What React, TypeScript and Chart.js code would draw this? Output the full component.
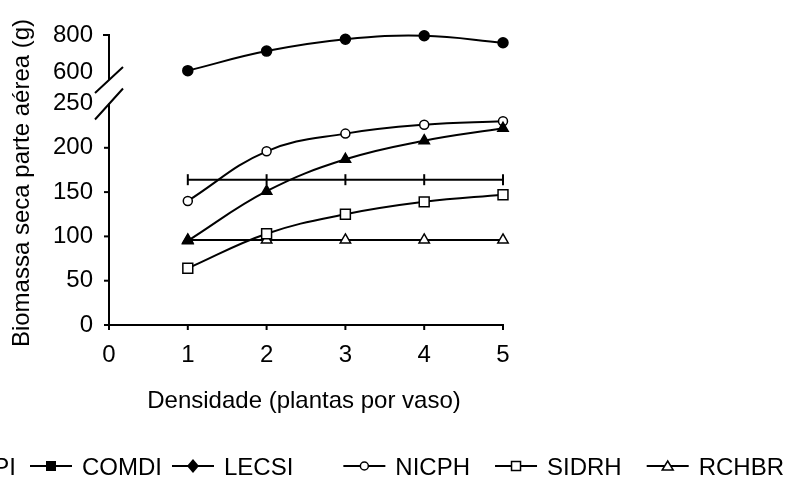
import React, { useEffect, useRef } from "react";
import { Chart, registerables } from "chart.js";

Chart.register(...registerables);

// ---- data ----
const densidade = [1, 2, 3, 4, 5];
const bidpi = [607, 713, 777, 796, 758]; // filled circles (upper segment of axis)
const comdi = [95, 151, 187, 208, 222]; // filled triangles
const lecsi = [164, 164, 164, 164, 164]; // bar markers
const nicph = [140, 196, 216, 226, 230]; // open circles
const sidrh = [64, 103, 125, 139, 147]; // open squares
const rchbr = [96, 96, 96, 96, 96]; // open triangles
const xTickValues = [0, 1, 2, 3, 4, 5];
const yTicksLower = [0, 50, 100, 150, 200, 250];
const yTicksUpper = [600, 800];
const legendNames = ["BIDPI", "COMDI", "LECSI", "NICPH", "SIDRH", "RCHBR"];
const xTitle = "Densidade (plantas por vaso)";
const yTitle = "Biomassa seca parte aérea (g)";

// ---- broken axis mapping ----
const BREAK_LOW = 250;
const UPPER_START = 600;
const AXIS_AT_600 = 285.6;
const UPPER_K = 0.2085;
const toAxis = (v: number) => (v <= BREAK_LOW ? v : AXIS_AT_600 + (v - UPPER_START) * UPPER_K);

const FONT = "'Liberation Sans', Arial, sans-serif";
const FS = 24;

const pts = (arr: number[]) => arr.map((v, i) => ({ x: densidade[i], y: toAxis(v) }));

const customDraw = {
  id: "customDraw",
  beforeDatasetsDraw(chart: any) {
    const ctx = chart.ctx;
    const xs = chart.scales.x;
    const ys = chart.scales.y;
    const x0 = xs.getPixelForValue(0);
    const y0 = ys.getPixelForValue(0);
    ctx.save();
    ctx.strokeStyle = "#000";
    ctx.lineWidth = 2;
    ctx.lineCap = "butt";
    // x axis
    ctx.beginPath();
    ctx.moveTo(x0 - 1, y0);
    ctx.lineTo(xs.getPixelForValue(5) + 1, y0);
    ctx.stroke();
    xTickValues.forEach((v) => {
      const px = xs.getPixelForValue(v);
      ctx.beginPath();
      ctx.moveTo(px, y0);
      ctx.lineTo(px, y0 + 5);
      ctx.stroke();
    });
    // y axis lower segment
    const yLowTop = ys.getPixelForValue(BREAK_LOW);
    const yTop = ys.getPixelForValue(toAxis(800));
    const y600 = ys.getPixelForValue(toAxis(600));
    ctx.beginPath();
    ctx.moveTo(x0, y0 + 1);
    ctx.lineTo(x0, yLowTop);
    ctx.stroke();
    // upper segment
    ctx.beginPath();
    ctx.moveTo(x0, yTop);
    ctx.lineTo(x0, y600 + 8);
    ctx.stroke();
    // ticks
    [0, 50, 100, 150, 200].forEach((v) => {
      const py = ys.getPixelForValue(v);
      ctx.beginPath();
      ctx.moveTo(x0 - 5, py);
      ctx.lineTo(x0, py);
      ctx.stroke();
    });
    ctx.beginPath();
    ctx.moveTo(x0 - 6, yTop);
    ctx.lineTo(x0 + 1, yTop);
    ctx.stroke();
    // break marks
    ctx.beginPath();
    ctx.moveTo(x0 - 14, y600 + 21);
    ctx.lineTo(x0 + 14, y600 - 5);
    ctx.moveTo(x0 - 14, yLowTop + 16);
    ctx.lineTo(x0 + 14, yLowTop - 15);
    ctx.stroke();
    ctx.restore();
  },
  afterDraw(chart: any) {
    const ctx = chart.ctx;
    const xs = chart.scales.x;
    ctx.save();
    ctx.fillStyle = "#000";
    ctx.font = `${FS}px ${FONT}`;
    // x title
    ctx.textAlign = "center";
    ctx.textBaseline = "alphabetic";
    ctx.fillText(xTitle, xs.getPixelForValue(2.5) - 2, 408);
    // y title
    ctx.save();
    ctx.translate(29, 183);
    ctx.rotate(-Math.PI / 2);
    ctx.fillText(yTitle, 0, 0);
    ctx.restore();

    // legend
    ctx.textAlign = "left";
    const ly = 466;
    const baseY = 475;
    const symbols = ["circleFill", "square", "diamond", "circle", "squareOpen", "triangleOpen"];
    let x = 16 - ctx.measureText(legendNames[0]).width;
    ctx.fillText(legendNames[0], x, baseY);
    x = 16;
    const gapsBefore = [0, 14, 10, 50, 25, 25];
    const lineLen = 42;
    for (let i = 1; i < legendNames.length; i++) {
      const ls = x + gapsBefore[i];
      const le = ls + lineLen;
      const cx = (ls + le) / 2;
      ctx.strokeStyle = "#000";
      ctx.lineWidth = 2;
      ctx.beginPath();
      ctx.moveTo(ls, ly);
      ctx.lineTo(le, ly);
      ctx.stroke();
      const s = symbols[i];
      ctx.beginPath();
      if (s === "square") {
        ctx.fillStyle = "#000";
        ctx.fillRect(cx - 5, ly - 5, 10, 10);
      } else if (s === "diamond") {
        ctx.fillStyle = "#000";
        ctx.moveTo(cx, ly - 7);
        ctx.lineTo(cx + 6, ly);
        ctx.lineTo(cx, ly + 7);
        ctx.lineTo(cx - 6, ly);
        ctx.closePath();
        ctx.fill();
      } else if (s === "circle") {
        ctx.fillStyle = "#fff";
        ctx.lineWidth = 1.5;
        ctx.arc(cx, ly, 4, 0, Math.PI * 2);
        ctx.fill();
        ctx.stroke();
      } else if (s === "squareOpen") {
        ctx.fillStyle = "#fff";
        ctx.lineWidth = 1.5;
        ctx.rect(cx - 4.5, ly - 4.5, 9, 9);
        ctx.fill();
        ctx.stroke();
      } else if (s === "triangleOpen") {
        ctx.fillStyle = "#fff";
        ctx.lineWidth = 1.5;
        ctx.moveTo(cx, ly - 5);
        ctx.lineTo(cx + 5.5, ly + 4);
        ctx.lineTo(cx - 5.5, ly + 4);
        ctx.closePath();
        ctx.fill();
        ctx.stroke();
      }
      ctx.fillStyle = "#000";
      const tx = le + 10;
      ctx.fillText(legendNames[i], tx, baseY);
      x = tx + ctx.measureText(legendNames[i]).width;
    }
    ctx.restore();
  },
};

export default function App() {
  const ref = useRef<HTMLCanvasElement | null>(null);
  useEffect(() => {
    document.body.style.margin = "0";
    const canvas = ref.current!;
    const yTickAll = [...yTicksLower, ...yTicksUpper];
    const lineCommon = {
      borderColor: "#000",
      borderWidth: 2,
      tension: 0.4,
      pointBorderColor: "#000",
      pointBorderWidth: 1.5,
      clip: false,
    };
    const chart = new Chart(canvas, {
      type: "line",
      data: {
        datasets: [
          { ...lineCommon, label: legendNames[0], data: pts(bidpi), pointStyle: "circle", pointRadius: 5, pointBackgroundColor: "#000" },
          { ...lineCommon, label: legendNames[1], data: pts(comdi), pointStyle: "triangle", pointRadius: 6, pointBackgroundColor: "#000" },
          { ...lineCommon, label: legendNames[2], data: pts(lecsi), pointStyle: "line", pointRotation: 90, pointRadius: 5.5, pointBorderWidth: 2, tension: 0 },
          { ...lineCommon, label: legendNames[3], data: pts(nicph), pointStyle: "circle", pointRadius: 4.5, pointBackgroundColor: "#fff" },
          { ...lineCommon, label: legendNames[4], data: pts(sidrh), pointStyle: "rect", pointRadius: 7, pointBackgroundColor: "#fff" },
          { ...lineCommon, label: legendNames[5], data: pts(rchbr), pointStyle: "triangle", pointRadius: 6, pointBackgroundColor: "#fff", tension: 0 },
        ],
      },
      options: {
        responsive: false,
        devicePixelRatio: 1,
        animation: false,
        layout: { padding: { left: 0, top: 35, right: 288, bottom: 0 } },
        plugins: { legend: { display: false }, tooltip: { enabled: false } },
        scales: {
          x: {
            type: "linear",
            min: 0,
            max: 5,
            afterBuildTicks: (s: any) => {
              s.ticks = xTickValues.map((v) => ({ value: v }));
            },
            afterFit: (s: any) => {
              s.height = 156;
            },
            grid: { display: false, drawTicks: false, tickLength: 0 },
            border: { display: false },
            ticks: { color: "#000", font: { family: FONT, size: FS }, padding: 16, maxRotation: 0 },
          },
          y: {
            type: "linear",
            min: 0,
            max: toAxis(800),
            afterBuildTicks: (s: any) => {
              s.ticks = yTickAll.map((v) => ({ value: toAxis(v) }));
            },
            afterFit: (s: any) => {
              s.width = 109;
            },
            grid: { display: false, drawTicks: false, tickLength: 0 },
            border: { display: false },
            ticks: {
              color: "#000",
              font: { family: FONT, size: FS },
              padding: 16,
              callback: (_v: any, i: number) => String(yTickAll[i]),
            },
          },
        },
      },
      plugins: [customDraw],
    });
    return () => chart.destroy();
  }, []);
  return <canvas ref={ref} width={791} height={481} style={{ display: "block" }} />;
}
